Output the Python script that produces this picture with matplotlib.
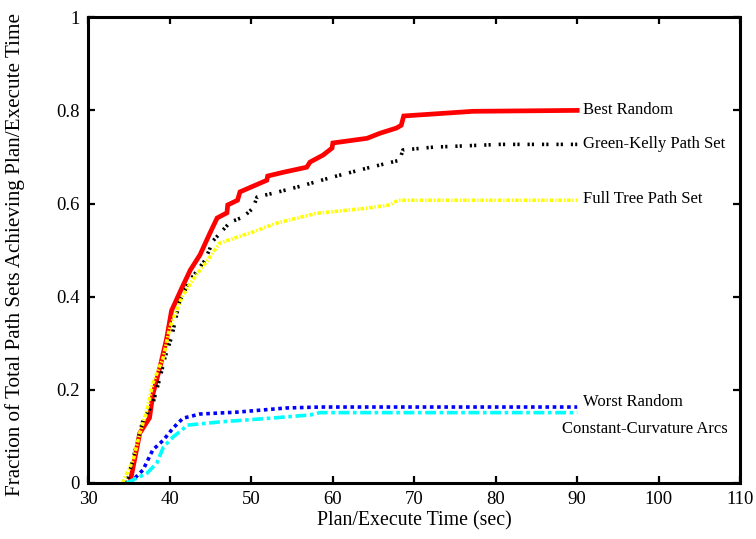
import numpy as np
import matplotlib
matplotlib.use("Agg")
import matplotlib.pyplot as plt

plt.rcParams['font.family'] = ['Liberation Serif', 'DejaVu Serif']

# values
best_x = [35.1, 36.3, 37.5, 37.9, 38.8, 39.6, 40.2, 41.5, 42.5, 43.7, 44.9, 45.8, 47.0, 47.1,
          48.3, 48.6, 51.9, 52.0, 53.9, 56.8, 57.2, 58.8, 59.9, 60.0, 64.2, 65.8, 67.8, 68.4,
          68.7, 77.2, 90.0]
best_y = [0.0, 0.107, 0.14, 0.19, 0.25, 0.31, 0.37, 0.42, 0.457, 0.49, 0.536, 0.569, 0.58, 0.597,
          0.607, 0.625, 0.65, 0.659, 0.667, 0.678, 0.689, 0.704, 0.719, 0.73, 0.74, 0.751, 0.762,
          0.768, 0.788, 0.798, 0.80]

gk_x = [34.7, 36.7, 37.9, 38.8, 39.4, 40.2, 41.2, 42.5, 44.3, 45.3, 47.4, 49.0, 50.2, 50.7,
        53.1, 56.0, 60.0, 64.2, 68.2, 68.6, 72.3, 80.5, 90.0]
gk_y = [0.0, 0.135, 0.17, 0.227, 0.27, 0.313, 0.39, 0.436, 0.478, 0.52, 0.56, 0.571, 0.59, 0.614,
        0.624, 0.637, 0.657, 0.676, 0.693, 0.715, 0.721, 0.727, 0.727]

ft_x = [34.2, 35.5, 36.3, 37.2, 37.9, 39.2, 40.0, 41.5, 42.8, 44.5, 46.1, 50.2, 53.1, 58.0,
        64.2, 67.0, 68.0, 90.0]
ft_y = [0.0, 0.05, 0.107, 0.157, 0.214, 0.27, 0.335, 0.40, 0.436, 0.475, 0.515, 0.539, 0.558,
        0.579, 0.59, 0.597, 0.607, 0.607]

wr_x = [35.1, 36.7, 37.9, 39.2, 40.4, 41.6, 43.7, 48.2, 54.3, 58.4, 90.0]
wr_y = [0.0, 0.028, 0.071, 0.092, 0.118, 0.139, 0.148, 0.152, 0.161, 0.163, 0.163]

cc_x = [34.7, 37.2, 38.4, 39.2, 40.4, 41.5, 42.1, 46.1, 52.3, 57.2, 58.4, 90.0]
cc_y = [0.0, 0.021, 0.043, 0.077, 0.099, 0.114, 0.124, 0.131, 0.139, 0.146, 0.151, 0.151]

x_ticks = [30, 40, 50, 60, 70, 80, 90, 100, 110]
y_ticks = [0, 0.2, 0.4, 0.6, 0.8, 1]
y_tick_labels = ["0", "0.2", "0.4", "0.6", "0.8", "1"]

fig = plt.figure(figsize=(7.56, 5.39), dpi=100)
ax = fig.add_axes([0.117, 0.104, 0.862, 0.864])

ax.plot(best_x, best_y, color="red", lw=3.4, solid_joinstyle="miter")
ax.plot(gk_x, gk_y, color="black", lw=2.6, linestyle=(0, (0.6, 0.6, 0.6, 2.2)))
ax.plot(ft_x, ft_y, color="#ffff00", lw=2.6, linestyle=(0, (1.0, 0.5, 0.4, 0.5)))
ax.plot(wr_x, wr_y, color="#0000ff", lw=2.6, linestyle=(0, (1.0, 1.0)))
ax.plot(cc_x, cc_y, color="#00ffff", lw=2.6, linestyle=(0, (3.0, 1.0, 1.0, 1.0)))

fs = 12
ax.text(90.7, 0.80, "Best Random", fontsize=fs, va="center", ha="left")
ax.text(90.7, 0.727, "Green-Kelly Path Set", fontsize=fs, va="center", ha="left")
ax.text(90.7, 0.610, "Full Tree Path Set", fontsize=fs, va="center", ha="left")
ax.text(90.7, 0.174, "Worst Random", fontsize=fs, va="center", ha="left")
ax.text(88.1, 0.116, "Constant-Curvature Arcs", fontsize=fs, va="center", ha="left")

ax.set_xlim(30, 110)
ax.set_ylim(0, 1)
ax.set_xticks(x_ticks)
ax.set_yticks(y_ticks)
ax.set_yticklabels(y_tick_labels)
ax.tick_params(direction="in", top=True, right=True, length=5, width=1.6,
               labelsize=13.5, pad=6)
for s in ax.spines.values():
    s.set_linewidth(2.2)

ax.set_xlabel("Plan/Execute Time (sec)", fontsize=14.3, labelpad=2)
ax.set_ylabel("Fraction of Total Path Sets Achieving Plan/Execute Time", fontsize=15.2)
ax.yaxis.set_label_coords(-0.097, 0.49)

fig.savefig("out.png", dpi=100)
